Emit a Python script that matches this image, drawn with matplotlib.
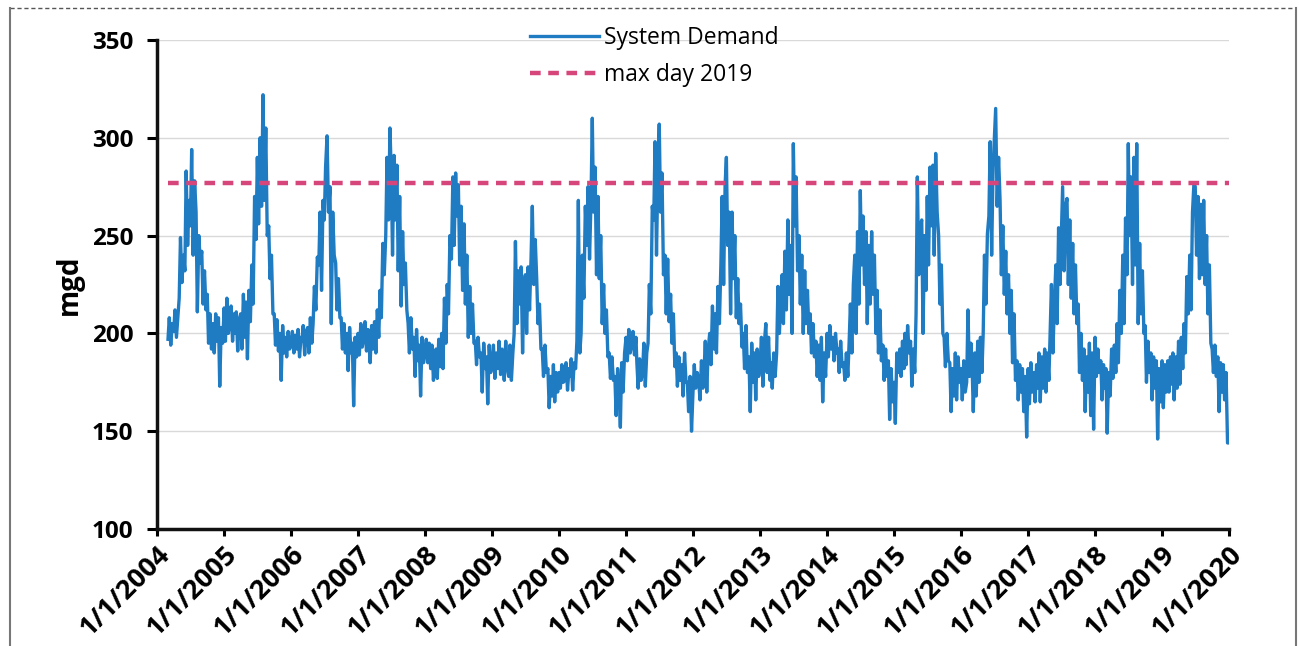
import matplotlib
matplotlib.use("Agg")
import matplotlib.pyplot as plt
import pandas as pd
from matplotlib.lines import Line2D

# ---- data (mgd), ~weekly readings, days 1/8/16/24 of each month ----
demand_2004 = [  # Mar-Dec
    197, 208, 194, 205, 201, 212, 198, 209, 218, 249, 226, 240,
    232, 283, 245, 268, 255, 294, 240, 278, 262, 211, 250, 236,
    242, 215, 232, 212, 220, 195, 210, 192, 205, 190, 210, 196,
    208, 173, 203, 195]
demand_2005 = [
    213, 196, 218, 200, 205, 214, 196, 210, 200, 211, 191, 207,
    210, 192, 220, 198, 216, 187, 222, 206, 235, 215, 270, 248,
    290, 256, 300, 265, 322, 268, 305, 250, 255, 228, 240, 210,
    210, 194, 207, 191, 200, 176, 204, 190, 198, 188, 201, 192]
demand_2006 = [
    195, 201, 190, 199, 192, 202, 188, 198, 196, 204, 189, 201,
    203, 190, 208, 195, 205, 224, 212, 239, 235, 262, 222, 268,
    258, 285, 301, 262, 275, 205, 262, 240, 236, 212, 228, 208,
    208, 192, 205, 190, 200, 181, 203, 190, 195, 163, 198, 188]
demand_2007 = [
    200, 189, 205, 193, 198, 206, 191, 202, 196, 185, 204, 192,
    206, 190, 212, 198, 222, 208, 246, 230, 250, 290, 258, 305,
    282, 240, 291, 258, 286, 232, 270, 214, 252, 225, 236, 212,
    205, 190, 208, 192, 198, 178, 202, 186, 194, 168, 198, 185]
demand_2008 = [
    190, 197, 185, 195, 182, 194, 176, 190, 192, 177, 197, 183,
    200, 182, 218, 195, 225, 210, 250, 238, 280, 245, 282, 260,
    276, 235, 265, 222, 256, 215, 240, 198, 224, 200, 215, 195,
    196, 184, 198, 188, 190, 170, 195, 182, 188, 164, 194, 180]
demand_2009 = [
    185, 194, 177, 190, 182, 196, 179, 192, 188, 176, 196, 183,
    178, 194, 176, 190, 200, 247, 205, 232, 215, 234, 190, 226,
    230, 200, 234, 212, 238, 265, 225, 248, 228, 205, 215, 192,
    192, 178, 194, 180, 182, 162, 178, 168, 184, 165, 180, 170]
demand_2010 = [
    180, 172, 184, 175, 176, 185, 171, 182, 178, 187, 171, 185,
    182, 196, 268, 190, 200, 240, 218, 265, 245, 275, 238, 268,
    310, 262, 285, 230, 270, 228, 250, 205, 225, 200, 212, 188,
    190, 177, 188, 176, 178, 158, 182, 170, 152, 185, 170, 190]
demand_2011 = [
    198, 186, 202, 190, 195, 201, 189, 198, 185, 172, 187, 176,
    180, 195, 173, 190, 195, 225, 210, 265, 258, 298, 240, 285,
    307, 262, 282, 230, 240, 210, 238, 206, 220, 195, 210, 183,
    190, 173, 188, 176, 184, 168, 190, 175, 175, 160, 178, 150]
demand_2012 = [
    170, 184, 172, 180, 176, 166, 186, 172, 180, 196, 170, 192,
    200, 184, 214, 192, 210, 190, 224, 205, 235, 270, 225, 276,
    290, 245, 262, 210, 262, 228, 250, 208, 228, 205, 215, 193,
    200, 182, 204, 180, 188, 160, 195, 175, 190, 166, 192, 178]
demand_2013 = [
    185, 198, 173, 195, 205, 180, 198, 176, 185, 172, 190, 178,
    190, 224, 200, 218, 230, 205, 242, 212, 258, 220, 245, 200,
    297, 255, 280, 232, 250, 215, 240, 200, 232, 205, 222, 200,
    210, 190, 205, 188, 196, 178, 194, 176, 198, 165, 190, 178]
demand_2014 = [
    200, 188, 204, 192, 198, 186, 200, 190, 192, 180, 196, 183,
    185, 176, 190, 178, 195, 215, 190, 225, 240, 200, 252, 215,
    273, 235, 260, 225, 252, 205, 245, 215, 252, 220, 240, 200,
    222, 190, 212, 186, 194, 176, 192, 178, 186, 156, 182, 165]
demand_2015 = [
    175, 154, 190, 180, 192, 178, 196, 182, 200, 184, 204, 190,
    196, 173, 192, 180, 210, 280, 230, 255, 258, 200, 250, 222,
    270, 235, 285, 255, 286, 240, 292, 262, 250, 215, 235, 200,
    198, 183, 200, 186, 185, 160, 182, 168, 190, 166, 188, 175]
demand_2016 = [
    182, 166, 186, 170, 175, 212, 178, 195, 185, 160, 190, 168,
    196, 175, 198, 180, 200, 240, 215, 251, 260, 298, 240, 285,
    300, 315, 265, 290, 268, 230, 255, 220, 242, 210, 230, 200,
    222, 185, 210, 176, 186, 166, 184, 170, 182, 160, 178, 147]
demand_2017 = [
    182, 164, 185, 170, 180, 165, 184, 172, 190, 165, 188, 172,
    192, 170, 190, 176, 200, 225, 190, 215, 235, 205, 254, 225,
    250, 275, 232, 265, 269, 225, 258, 218, 246, 210, 235, 205,
    215, 180, 200, 176, 192, 160, 188, 170, 195, 158, 190, 151]
demand_2018 = [
    198, 178, 192, 180, 186, 166, 184, 172, 182, 149, 180, 168,
    192, 177, 194, 180, 205, 185, 222, 200, 240, 205, 259, 230,
    297, 250, 280, 225, 290, 235, 297, 205, 246, 210, 232, 200,
    204, 175, 196, 180, 190, 166, 188, 172, 186, 146, 182, 165]
demand_2019 = [
    186, 162, 184, 170, 186, 170, 188, 174, 190, 166, 188, 172,
    196, 174, 198, 182, 205, 190, 229, 210, 240, 212, 262, 277,
    275, 240, 270, 228, 266, 230, 268, 225, 250, 210, 235, 195,
    192, 180, 194, 178, 188, 160, 185, 170, 184, 166, 180, 144]

max_day_2019 = 277
tick_years = list(range(2004, 2021))
tick_labels = [f"1/1/{y}" for y in tick_years]
series_name = "System Demand"
ref_name = "max day 2019"
y_label = "mgd"

yearly = {2004: demand_2004, 2005: demand_2005, 2006: demand_2006, 2007: demand_2007,
          2008: demand_2008, 2009: demand_2009, 2010: demand_2010, 2011: demand_2011,
          2012: demand_2012, 2013: demand_2013, 2014: demand_2014, 2015: demand_2015,
          2016: demand_2016, 2017: demand_2017, 2018: demand_2018, 2019: demand_2019}

dates, values = [], []
for yr, vals in yearly.items():
    first_month = 13 - len(vals) // 4
    k = 0
    for m in range(first_month, 13):
        for d in (1, 8, 16, 24):
            dates.append(pd.Timestamp(yr, m, d))
            values.append(vals[k])
            k += 1
dates.append(pd.Timestamp(2019, 12, 31))
values.append(144)

# ---- figure ----
plt.rcParams['font.family'] = ['Open Sans', 'DejaVu Sans']
W, H = 1299, 646
fig = plt.figure(figsize=(W / 100, H / 100), dpi=100)
ax = fig.add_axes([157 / W, 1 - 529 / H, (1229 - 157) / W, (529 - 40) / H])

blue = '#1f7bc2'
pink = '#d6467a'
ax.plot(dates, values, color=blue, lw=2.4, label=series_name, zorder=3)
ax.plot([dates[0], dates[-1]], [max_day_2019, max_day_2019], color=pink, lw=3.2,
        ls=(0, (2.4, 1.7)), label=ref_name, zorder=4)

ax.set_ylim(100, 350)
ax.set_yticks(range(100, 351, 50))
ax.set_xlim(pd.Timestamp(2004, 1, 1), pd.Timestamp(2020, 1, 1))
ax.set_xticks([pd.Timestamp(y, 1, 1) for y in tick_years])
ax.set_xticklabels(tick_labels, rotation=45, ha='right', rotation_mode='anchor')

for lab in ax.get_yticklabels():
    lab.set_fontweight('bold')
    lab.set_fontsize(17.5)
for lab in ax.get_xticklabels():
    lab.set_fontweight('bold')
    lab.set_fontsize(19.5)
ax.set_ylabel(y_label, fontsize=20, fontweight='bold', labelpad=6)

ax.grid(axis='y', color='#d9d9d9', lw=1)
ax.set_axisbelow(True)
for s in ('top', 'right'):
    ax.spines[s].set_visible(False)
for s in ('left', 'bottom'):
    ax.spines[s].set_linewidth(2.5)
    ax.spines[s].set_color('#111111')
ax.tick_params(axis='y', length=7, width=2.2, pad=10)
ax.tick_params(axis='x', length=5, width=2.2, pad=4)

leg = ax.legend(loc='upper left', bbox_to_anchor=(530 / W, 1 - 26 / H),
                bbox_transform=fig.transFigure, frameon=False, fontsize=16.5,
                handlelength=3.0, handletextpad=0.25, labelspacing=0.55, borderpad=0,
                borderaxespad=0)

# outer chart frame
fig.add_artist(Line2D([10 / W, 1296 / W], [1 - 8 / H, 1 - 8 / H], transform=fig.transFigure,
                      color='#555555', lw=1, ls=(0, (3, 2))))
fig.add_artist(Line2D([10 / W, 10 / W], [0, 1 - 8 / H], transform=fig.transFigure,
                      color='#777777', lw=1.5))
fig.add_artist(Line2D([1296 / W, 1296 / W], [0, 1 - 8 / H], transform=fig.transFigure,
                      color='#777777', lw=1.5))

fig.savefig('out.png', dpi=100)
